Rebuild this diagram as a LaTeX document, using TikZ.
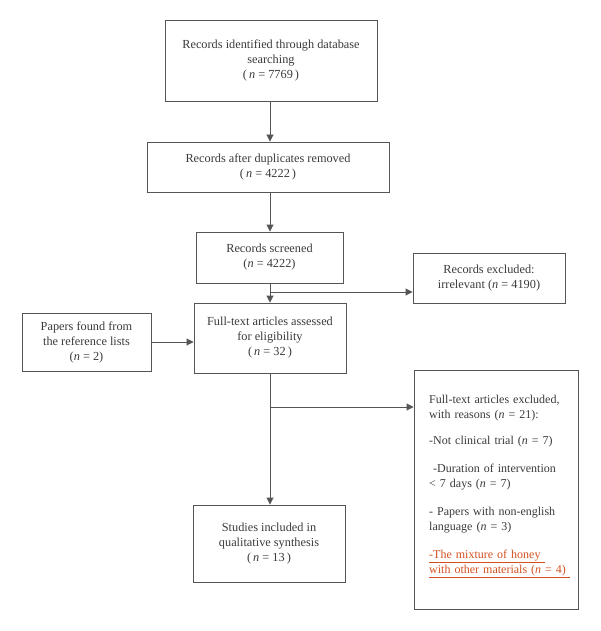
\documentclass[tikz,border=0pt]{standalone}
\usepackage{fontspec}
\setmainfont{Liberation Serif}
\usetikzlibrary{arrows.meta}
\definecolor{ink}{HTML}{3A3A3A}
\definecolor{edge}{HTML}{555555}
\definecolor{redtxt}{HTML}{D2501E}
\newcommand{\nn}{\textit{n}}
\begin{document}
\begin{tikzpicture}[x=1pt,y=-1pt,
  box/.style={draw=edge,line width=0.9pt,rectangle,inner sep=2pt,align=center,text=ink,
    font=\fontsize{12.3}{15}\selectfont},
  arr/.style={draw=edge,line width=0.9pt,-{Triangle[length=7pt,width=7pt]}}]
\useasboundingbox (0,0) rectangle (600,631);
\node[box,minimum width=212pt,minimum height=81pt] (b1) at (271,60.5)
  {Records identified through database\\searching\\(\,\nn{} = 7769\,)};
\node[box,minimum width=242pt,minimum height=50pt] (b2) at (268,167)
  {Records after duplicates removed\\(\,\nn{} = 4222\,)};
\node[box,minimum width=147pt,minimum height=51pt] (b3) at (269.5,257.5)
  {Records screened\\(\nn{} = 4222)};
\node[box,minimum width=152pt,minimum height=50pt] (ex) at (489,278)
  {Records excluded:\\irrelevant (\nn{} = 4190)};
\node[box,minimum width=152pt,minimum height=70pt] (ft) at (270,338)
  {Full-text articles assessed\\for eligibility\\(\,\nn{} = 32\,)};
\node[box,minimum width=129pt,minimum height=58pt] (pf) at (86.5,342)
  {Papers found from\\the reference lists\\(\nn{} = 2)};
\node[draw=edge,line width=0.9pt,minimum width=164pt,minimum height=239pt] (er) at (496,489.5) {};
\node[anchor=north west,inner sep=0pt,text=ink,align=left,text width=155pt,
  font=\fontsize{12}{15}\selectfont] (ert) at (429,395)
  {Full-text articles excluded,\\with reasons (\nn{} = 21):\\[11pt]
   -Not clinical trial (\nn{} = 7)\\[13pt]
   \ -Duration of intervention\\< 7 days (\nn{} = 7)\\[13pt]
   - Papers with non-english\\language (\nn{} = 3)\\[13pt]
   \textcolor{redtxt}{\underline{-The mixture of honey\ }}\\
   \textcolor{redtxt}{\underline{with other materials (\nn{} = 4)\ }}};
\node[box,minimum width=152pt,minimum height=77pt] (st) at (269,543.5)
  {Studies included in\\qualitative synthesis\\(\,\nn{} = 13\,)};
\coordinate (j1) at (270,292);
\coordinate (j2) at (270,407);
\draw[arr] (b1.south -| j1) -- (b2.north -| j1);
\draw[arr] (b2.south -| j1) -- (b3.north -| j1);
\draw[arr] (b3.south -| j1) -- (ft.north -| j1);
\draw[arr] (j1) -- (j1 -| ex.west);
\draw[arr] (pf.east) -- (pf.east -| ft.west);
\draw[arr] (ft.south -| j2) -- (st.north -| j2);
\draw[arr] (j2) -- (j2 -| er.west);
\end{tikzpicture}
\end{document}
